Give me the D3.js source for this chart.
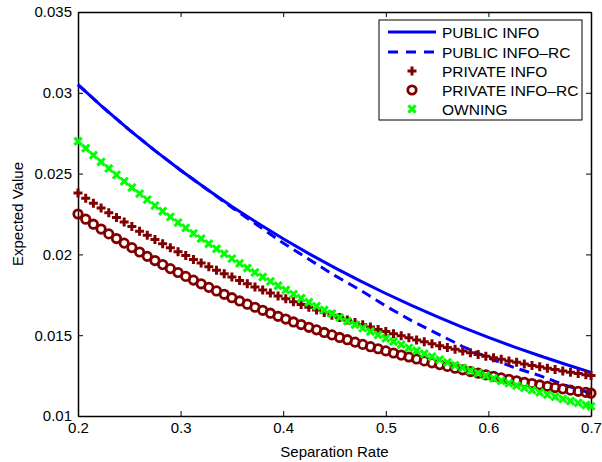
<!DOCTYPE html>
<html>
<head>
<meta charset="utf-8">
<script src="https://cdn.jsdelivr.net/npm/d3@7"></script>
<style>
  body { margin: 0; background: #fff; }
  svg text { font-family: "Liberation Sans", Arial, sans-serif; fill: #000; }
</style>
</head>
<body>
<script>
// separation rate sampled for the marker series
var sepRate = [0.2, 0.2075, 0.215, 0.2225, 0.23, 0.2375, 0.245, 0.2525, 0.26, 0.2675,
  0.275, 0.2825, 0.29, 0.2975, 0.305, 0.3125, 0.32, 0.3275, 0.335, 0.3425,
  0.35, 0.3575, 0.365, 0.3725, 0.38, 0.3875, 0.395, 0.4025, 0.41, 0.4175,
  0.425, 0.4325, 0.44, 0.4475, 0.455, 0.4625, 0.47, 0.4775, 0.485, 0.4925,
  0.5, 0.5075, 0.515, 0.5225, 0.53, 0.5375, 0.545, 0.5525, 0.56, 0.5675,
  0.575, 0.5825, 0.59, 0.5975, 0.605, 0.6125, 0.62, 0.6275, 0.635, 0.6425,
  0.65, 0.6575, 0.665, 0.6725, 0.68, 0.6875, 0.695, 0.7];

// separation rate sampled for the two line series
var lineRate = [0.2, 0.225, 0.25, 0.275, 0.3, 0.325, 0.35, 0.375, 0.4, 0.425,
  0.45, 0.475, 0.5, 0.525, 0.55, 0.575, 0.6, 0.625, 0.65, 0.675, 0.7];

var publicInfo = [0.0305, 0.02906, 0.02771, 0.02642, 0.02521, 0.02406, 0.02297, 0.02194, 0.02097, 0.02005,
  0.01918, 0.01836, 0.01758, 0.01684, 0.01615, 0.01549, 0.01487, 0.01428, 0.01373, 0.0132, 0.0127];

var publicInfoRC = [0.0305, 0.02906, 0.02771, 0.02642, 0.02521, 0.02406, 0.0229, 0.0218, 0.0207, 0.0197,
  0.0187, 0.0178, 0.0168, 0.0159, 0.0151, 0.0143, 0.0136, 0.0130, 0.0125, 0.0119, 0.0114];

var privateInfo = [0.0238, 0.02348, 0.02317, 0.02287, 0.02257, 0.02228, 0.022, 0.02172, 0.02144, 0.02118,
  0.02092, 0.02066, 0.02041, 0.02017, 0.01993, 0.01969, 0.01947, 0.01924, 0.01902, 0.01881,
  0.0186, 0.01839, 0.01819, 0.01799, 0.0178, 0.01761, 0.01743, 0.01725, 0.01707, 0.0169,
  0.01673, 0.01656, 0.0164, 0.01624, 0.01609, 0.01594, 0.01579, 0.01564, 0.0155, 0.01536,
  0.01523, 0.01509, 0.01496, 0.01484, 0.01471, 0.01459, 0.01447, 0.01435, 0.01424, 0.01413,
  0.01402, 0.01391, 0.01381, 0.0137, 0.0136, 0.01351, 0.01341, 0.01332, 0.01322, 0.01313,
  0.01305, 0.01296, 0.01288, 0.01279, 0.01271, 0.01263, 0.01256, 0.01251];

var privateInfoRC = [0.0225, 0.02218, 0.02187, 0.02157, 0.02127, 0.02098, 0.0207, 0.02042, 0.02015, 0.01988,
  0.01962, 0.01937, 0.01912, 0.01888, 0.01864, 0.01841, 0.01818, 0.01796, 0.01774, 0.01753,
  0.01732, 0.01712, 0.01692, 0.01673, 0.01654, 0.01636, 0.01617, 0.016, 0.01582, 0.01566,
  0.01549, 0.01533, 0.01517, 0.01502, 0.01486, 0.01472, 0.01457, 0.01443, 0.01429, 0.01416,
  0.01403, 0.0139, 0.01377, 0.01365, 0.01353, 0.01341, 0.01329, 0.01318, 0.01307, 0.01296,
  0.01286, 0.01275, 0.01265, 0.01255, 0.01246, 0.01236, 0.01227, 0.01218, 0.01209, 0.01201,
  0.01192, 0.01184, 0.01176, 0.01168, 0.0116, 0.01153, 0.01146, 0.01141];

var owning = [0.027, 0.02657, 0.02614, 0.02573, 0.02532, 0.02492, 0.02452, 0.02414, 0.02376, 0.02339,
  0.02302, 0.02267, 0.02232, 0.02197, 0.02164, 0.0213, 0.02098, 0.02066, 0.02035, 0.02004,
  0.01974, 0.01945, 0.01916, 0.01888, 0.0186, 0.01833, 0.01806, 0.0178, 0.01754, 0.01729,
  0.01704, 0.0168, 0.01656, 0.01633, 0.0161, 0.01587, 0.01565, 0.01544, 0.01523, 0.01502,
  0.01481, 0.01461, 0.01442, 0.01422, 0.01404, 0.01385, 0.01367, 0.01349, 0.01332, 0.01314,
  0.01298, 0.01281, 0.01265, 0.01249, 0.01233, 0.01218, 0.01203, 0.01188, 0.01174, 0.0116,
  0.01146, 0.01132, 0.01119, 0.01106, 0.01093, 0.01081, 0.01068, 0.0106];

var xTicks = [0.2, 0.3, 0.4, 0.5, 0.6, 0.7];
var xTickLabels = ["0.2", "0.3", "0.4", "0.5", "0.6", "0.7"];
var yTicks = [0.01, 0.015, 0.02, 0.025, 0.03, 0.035];
var yTickLabels = ["0.01", "0.015", "0.02", "0.025", "0.03", "0.035"];
var legendNames = ["PUBLIC INFO", "PUBLIC INFO\u2013RC", "PRIVATE INFO", "PRIVATE INFO\u2013RC", "OWNING"];

var width = 602,
    height = 462;

var x = d3.scaleLinear().domain([0.2, 0.7]).range([78, 591]);
var y = d3.scaleLinear().domain([0.01, 0.035]).range([416, 12]);

var svg = d3.select("body").append("svg")
    .attr("width", width)
    .attr("height", height);

// marker shapes (MATLAB style)
var plusPath = "M-4.5,0H4.5M0,-4.5V4.5";
var crossPath = "M-3.6,-3.6L3.6,3.6M-3.6,3.6L3.6,-3.6";

// axes, ticks pointing inward, box on
function tickLabel(ticks, labels) {
  return function(d) { return labels[ticks.indexOf(d)]; };
}

svg.append("g")
    .attr("transform", "translate(0,416)")
    .call(d3.axisBottom(x).tickValues(xTicks).tickFormat(tickLabel(xTicks, xTickLabels))
      .tickSizeInner(-5).tickSizeOuter(0).tickPadding(6));

svg.append("g")
    .attr("transform", "translate(78,0)")
    .call(d3.axisLeft(y).tickValues(yTicks).tickFormat(tickLabel(yTicks, yTickLabels))
      .tickSizeInner(-5).tickSizeOuter(0).tickPadding(6));

svg.append("g")
    .attr("transform", "translate(0,12)")
    .call(d3.axisTop(x).tickValues(xTicks).tickFormat("").tickSizeInner(-5).tickSizeOuter(0));

svg.append("g")
    .attr("transform", "translate(591,0)")
    .call(d3.axisRight(y).tickValues(yTicks).tickFormat("").tickSizeInner(-5).tickSizeOuter(0));

svg.selectAll(".domain").attr("stroke", "#000").attr("stroke-width", 1.5);
svg.selectAll(".tick line").attr("stroke", "#000").attr("stroke-width", 1);
svg.selectAll(".tick text").attr("font-size", 15).attr("font-family", "Liberation Sans, Arial, sans-serif");

// axis titles
svg.append("text")
    .attr("x", 334.5)
    .attr("y", 457)
    .attr("text-anchor", "middle")
    .attr("font-size", 15)
    .text("Separation Rate");

svg.append("text")
    .attr("transform", "translate(23,214) rotate(-90)")
    .attr("text-anchor", "middle")
    .attr("font-size", 15)
    .text("Expected Value");

// lines
var line = d3.line()
    .x(function(d) { return x(d[0]); })
    .y(function(d) { return y(d[1]); });

svg.append("path")
    .datum(d3.zip(lineRate, publicInfo))
    .attr("d", line)
    .attr("fill", "none")
    .attr("stroke", "#0000ff")
    .attr("stroke-width", 3);

svg.append("path")
    .datum(d3.zip(lineRate, publicInfoRC))
    .attr("d", line)
    .attr("fill", "none")
    .attr("stroke", "#0000ff")
    .attr("stroke-width", 3)
    .attr("stroke-dasharray", "10,6");

// marker series
svg.append("g").selectAll("path")
    .data(d3.zip(sepRate, privateInfo))
    .enter().append("path")
    .attr("d", plusPath)
    .attr("transform", function(d) { return "translate(" + x(d[0]) + "," + y(d[1]) + ")"; })
    .attr("stroke", "#800000")
    .attr("stroke-width", 3);

svg.append("g").selectAll("circle")
    .data(d3.zip(sepRate, privateInfoRC))
    .enter().append("circle")
    .attr("cx", function(d) { return x(d[0]); })
    .attr("cy", function(d) { return y(d[1]); })
    .attr("r", 4.2)
    .attr("fill", "none")
    .attr("stroke", "#800000")
    .attr("stroke-width", 2.8);

svg.append("g").selectAll("path")
    .data(d3.zip(sepRate, owning))
    .enter().append("path")
    .attr("d", crossPath)
    .attr("transform", function(d) { return "translate(" + x(d[0]) + "," + y(d[1]) + ")"; })
    .attr("stroke", "#00ff00")
    .attr("stroke-width", 3);

// legend
var legend = svg.append("g").attr("transform", "translate(379,20)");

legend.append("rect")
    .attr("width", 203)
    .attr("height", 100)
    .attr("fill", "#fff")
    .attr("stroke", "#000")
    .attr("stroke-width", 1);

var rowY = [12, 32, 51, 70, 89];

legend.append("line").attr("x1", 9).attr("x2", 57).attr("y1", rowY[0]).attr("y2", rowY[0])
    .attr("stroke", "#0000ff").attr("stroke-width", 3);
legend.append("line").attr("x1", 9).attr("x2", 57).attr("y1", rowY[1]).attr("y2", rowY[1])
    .attr("stroke", "#0000ff").attr("stroke-width", 3).attr("stroke-dasharray", "10,8");
legend.append("path").attr("d", plusPath).attr("transform", "translate(33," + rowY[2] + ")")
    .attr("stroke", "#800000").attr("stroke-width", 3);
legend.append("circle").attr("cx", 33).attr("cy", rowY[3]).attr("r", 4.2)
    .attr("fill", "none").attr("stroke", "#800000").attr("stroke-width", 2.8);
legend.append("path").attr("d", crossPath).attr("transform", "translate(33," + rowY[4] + ")")
    .attr("stroke", "#00ff00").attr("stroke-width", 3);

legend.selectAll("text.name")
    .data(legendNames)
    .enter().append("text")
    .attr("class", "name")
    .attr("x", 63)
    .attr("y", function(d, i) { return rowY[i]; })
    .attr("dy", "0.36em")
    .attr("font-size", 15.5)
    .text(function(d) { return d; });
</script>
</body>
</html>
